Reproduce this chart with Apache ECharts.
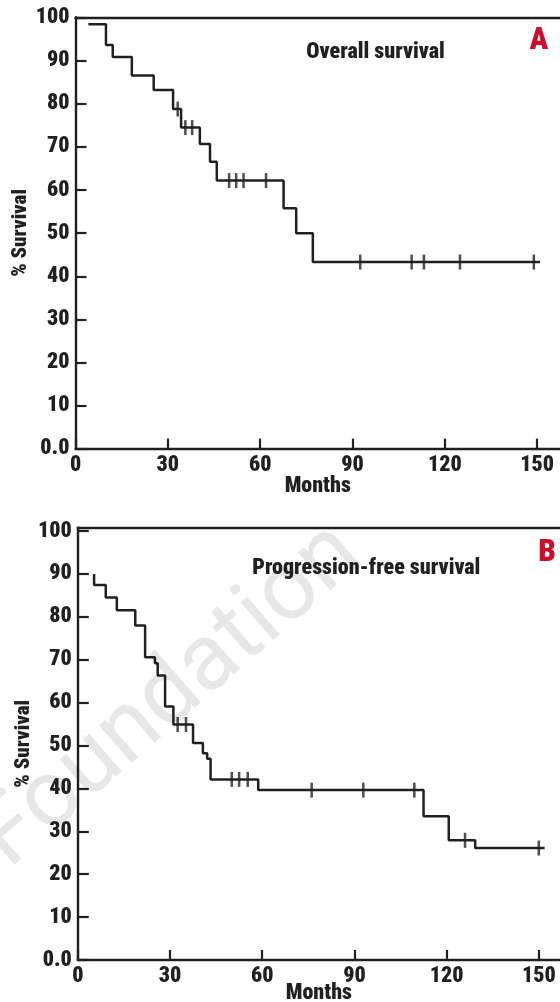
<!DOCTYPE html>
<html>
<head>
<meta charset="utf-8">
<script src="https://cdn.jsdelivr.net/npm/echarts@6/dist/echarts.min.js"></script>
<style>
html,body{margin:0;padding:0;background:#fff;}
#chart{width:560px;height:1002px;}
</style>
</head>
<body>
<div id="chart"></div>
<script>
// ---- Data ----
const xTicks = [0, 30, 60, 90, 120, 150];
const yTicks = [0, 10, 20, 30, 40, 50, 60, 70, 80, 90, 100];

// Panel A: Overall survival (Kaplan-Meier step points: time in months, % surviving after the step)
const osTime = [4.2, 9.9, 12.1, 18.3, 25.4, 31.7, 34.3, 40.4, 43.7, 45.9, 67.6, 71.7, 77.1, 150.9];
const osSurv = [98.5, 93.7, 90.9, 86.6, 83.2, 78.8, 74.5, 70.7, 66.6, 62.2, 55.8, 50.0, 43.3, 43.3];
const osCensorTime = [33.2, 35.7, 37.9, 49.9, 52.2, 54.6, 61.9, 92.5, 109.2, 113.2, 124.9, 148.9];
const osCensorSurv = [78.8, 74.5, 74.5, 62.2, 62.2, 62.2, 62.2, 43.3, 43.3, 43.3, 43.3, 43.3];

// Panel B: Progression-free survival
const pfsTime = [5.3, 5.3, 9.1, 12.7, 18.7, 21.9, 25.1, 26.0, 28.4, 31.1, 37.5, 40.7, 42.1, 43.2, 58.7, 112.5, 120.7, 129.3, 151.9];
const pfsSurv = [90.0, 87.4, 84.5, 81.5, 78.0, 70.6, 69.2, 66.3, 59.1, 54.9, 50.6, 48.2, 46.9, 42.1, 39.6, 33.5, 27.9, 26.1, 26.1];
const pfsCensorTime = [32.5, 35.2, 50.1, 52.5, 55.3, 76.1, 92.9, 109.5, 126.0, 150.0];
const pfsCensorSurv = [54.9, 54.9, 42.1, 42.1, 42.1, 39.6, 39.6, 39.6, 27.9, 26.1];

const titles = ['Overall survival', 'Progression-free survival'];
const panelLetters = ['A', 'B'];
const xName = 'Months';
const yName = '% Survival';
const watermark = 'Ferrata Storti Foundation';

// ---- Styling ----
const INK = '#231f20';
const RED = '#c8102e';
const FONT = "'Roboto Condensed', 'Open Sans Condensed', sans-serif";
const WEIGHT = 900;

function zip(a, b) { return a.map((v, i) => [v, b[i]]); }

function xAxisBottom(gridIndex, max, nameGap) {
  return {
    type: 'value', gridIndex: gridIndex, position: 'bottom', min: 0, max: max, interval: 30,
    axisLine: { show: true, onZero: false, lineStyle: { color: INK, width: 2.4 } },
    axisTick: { show: true, inside: true, length: 10, customValues: xTicks, lineStyle: { color: INK, width: 2.2 } },
    axisLabel: { show: true, customValues: xTicks, margin: 5.5, color: INK, fontFamily: FONT, fontWeight: WEIGHT, fontSize: 22 },
    splitLine: { show: false },
    name: xName, nameLocation: 'middle', nameGap: nameGap, nameMoveOverlap: false,
    nameTextStyle: { color: INK, fontFamily: FONT, fontWeight: WEIGHT, fontSize: 22 }
  };
}
function xAxisTop(gridIndex, max) {
  return {
    type: 'value', gridIndex: gridIndex, position: 'top', min: 0, max: max,
    axisLine: { show: true, onZero: false, lineStyle: { color: INK, width: 2.4 } },
    axisTick: { show: false }, axisLabel: { show: false }, splitLine: { show: false }
  };
}
function yAxis(gridIndex, max) {
  return {
    type: 'value', gridIndex: gridIndex, min: 0, max: max, interval: 10,
    axisLine: { show: true, onZero: false, lineStyle: { color: INK, width: 2.4 } },
    axisTick: { show: true, inside: true, length: 11, customValues: yTicks, lineStyle: { color: INK, width: 2.2 } },
    axisLabel: {
      show: true, customValues: yTicks, margin: 6, color: INK, fontFamily: FONT, fontWeight: WEIGHT, fontSize: 22,
      formatter: function (v) { return v === 0 ? '0.0' : String(v); }
    },
    splitLine: { show: false },
    name: yName, nameLocation: 'middle', nameGap: 44, nameMoveOverlap: false,
    nameTextStyle: { color: INK, fontFamily: FONT, fontWeight: WEIGHT, fontSize: 21 }
  };
}
function kmSeries(idx, t, s) {
  return {
    type: 'line', xAxisIndex: idx * 2, yAxisIndex: idx, data: zip(t, s), step: 'end',
    showSymbol: false, symbol: 'none', lineStyle: { color: INK, width: 2.5 }, silent: true, z: 3
  };
}
function censorSeries(idx, t, s) {
  return {
    type: 'scatter', xAxisIndex: idx * 2, yAxisIndex: idx, data: zip(t, s),
    symbol: 'rect', symbolSize: [2.5, 15], itemStyle: { color: INK }, silent: true, z: 4
  };
}

const chart = echarts.init(document.getElementById('chart'), null, { renderer: 'canvas' });
const option = {
  animation: false,
  backgroundColor: '#fff',
  grid: [
    { left: 75.5, top: 17.3, width: 484.5, height: 431.3, containLabel: false, outerBoundsMode: 'none' },
    { left: 77.8, top: 527.7, width: 482.2, height: 432.3, containLabel: false, outerBoundsMode: 'none' }
  ],
  xAxis: [xAxisBottom(0, 157.4, 26.5), xAxisTop(0, 157.4), xAxisBottom(1, 156.9, 22), xAxisTop(1, 156.9)],
  yAxis: [yAxis(0, 100.1), yAxis(1, 100.77)],
  series: [
    kmSeries(0, osTime, osSurv), censorSeries(0, osCensorTime, osCensorSurv),
    kmSeries(1, pfsTime, pfsSurv), censorSeries(1, pfsCensorTime, pfsCensorSurv)
  ],
  graphic: [
    { type: 'text', z: -10, x: 380, y: 578, rotation: 41 * Math.PI / 180,
      style: { text: watermark, font: "400 94px 'Roboto', 'Liberation Sans', sans-serif", fill: '#e7e7e7', align: 'right', verticalAlign: 'bottom' } },
    { type: 'text', z: 10, x: 375.5, y: 52.5,
      style: { text: titles[0], font: WEIGHT + " 22px " + FONT, fill: INK, align: 'center', verticalAlign: 'middle' } },
    { type: 'text', z: 10, x: 539, y: 41,
      style: { text: panelLetters[0], font: WEIGHT + " 31px " + FONT, fill: RED, align: 'center', verticalAlign: 'middle' } },
    { type: 'text', z: 10, x: 366.3, y: 568.5,
      style: { text: titles[1], font: WEIGHT + " 22px " + FONT, fill: INK, align: 'center', verticalAlign: 'middle' } },
    { type: 'text', z: 10, x: 547, y: 553.5,
      style: { text: panelLetters[1], font: WEIGHT + " 31px " + FONT, fill: RED, align: 'center', verticalAlign: 'middle' } }
  ]
};
chart.setOption(option);
</script>
</body>
</html>
